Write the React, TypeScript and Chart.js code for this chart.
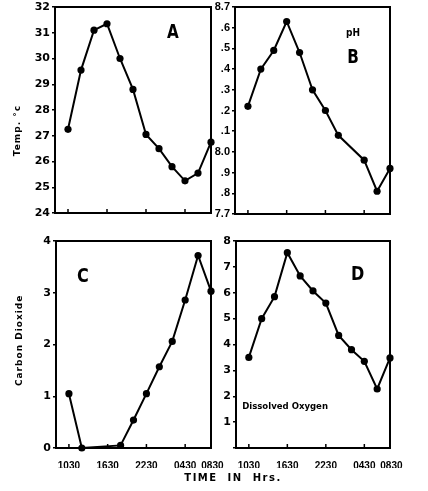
import React, { useEffect, useRef } from "react";
import { Chart, registerables } from "chart.js";

Chart.register(...registerables);

// ---- data ----
// sampling times as hours from midnight of day 1 (32.5 = 08:30 next day)
const sampleHours = [10.5, 12.5, 14.5, 16.5, 18.5, 20.5, 22.5, 24.5, 26.5, 28.5, 30.5, 32.5];
const xTickValues = [10.5, 16.5, 22.5, 28.5, 32.5];
const xTickLabels = ["1030", "1630", "2230", "0430", " 0830"];

const temperature = [27.25, 29.55, 31.1, 31.35, 30.0, 28.8, 27.05, 26.5, 25.8, 25.25, 25.55, 26.75];
const pH = [8.22, 8.4, 8.49, 8.63, 8.48, 8.3, 8.2, 8.08, null, 7.96, 7.81, 7.92];
const carbonDioxide = [1.05, 0.0, null, null, 0.05, 0.54, 1.05, 1.57, 2.06, 2.86, 3.72, 3.03];
const dissolvedOxygen = [3.5, 5.0, 5.85, 7.55, 6.65, 6.07, 5.6, 4.35, 3.8, 3.35, 2.28, 3.48];

const tempTicks = [24, 25, 26, 27, 28, 29, 30, 31, 32];
const tempTickLabels = ["24", "25", "26", "27", "28", "29", "30", "31", "32"];
const pHTicks = [7.7, 7.8, 7.9, 8.0, 8.1, 8.2, 8.3, 8.4, 8.5, 8.6, 8.7];
const pHTickLabels = ["7.7", ".8", ".9", "8.0", ".1", ".2", ".3", ".4", ".5", ".6", "8.7"];
const co2Ticks = [0, 1, 2, 3, 4];
const co2TickLabels = ["0", "1", "2", "3", "4"];
const doTicks = [0, 1, 2, 3, 4, 5, 6, 7, 8];
const doTickLabels = ["", "1", "2", "3", "4", "5", "6", "7", "8"];

const W = 428;
const H = 491;
const X_AXIS_H = 20;
const FONT = '"DejaVu Sans", "Liberation Sans", sans-serif';
const NARROW = '"Liberation Sans", Arial, sans-serif';

type TextItem = {
  text: string;
  fx?: number;
  dx?: number;
  fy: number;
  size: number;
  align?: CanvasTextAlign;
  rotate?: boolean;
  sx?: number;
  spacing?: number;
};

const panelPlugin = {
  id: "panel",
  afterDatasetsDraw(chart: any, _args: any, opts: any) {
    const { ctx, chartArea: a } = chart;
    const w = a.right - a.left;
    const h = a.bottom - a.top;
    ctx.save();
    ctx.strokeStyle = "#000";
    ctx.lineWidth = 2;
    ctx.strokeRect(a.left, a.top, w, h);
    const xs = chart.scales.x;
    ctx.lineWidth = 1.5;
    xs.ticks.forEach((t: any) => {
      if (t.value >= xs.max) return;
      const px = xs.getPixelForValue(t.value);
      ctx.beginPath();
      ctx.moveTo(px, a.bottom);
      ctx.lineTo(px, a.bottom - 4);
      ctx.stroke();
    });
    ctx.fillStyle = "#000";
    (opts.texts || []).forEach((t: TextItem) => {
      const x = t.dx !== undefined ? a.left + t.dx : a.left + (t.fx || 0) * w;
      const y = a.top + t.fy * h;
      ctx.save();
      ctx.translate(x, y);
      if (t.rotate) ctx.rotate(-Math.PI / 2);
      ctx.scale(t.sx || 1, 1);
      ctx.font = `bold ${t.size}px ${FONT}`;
      (ctx as any).letterSpacing = `${t.spacing || 0}px`;
      ctx.textAlign = t.align || "center";
      ctx.textBaseline = "middle";
      ctx.fillText(t.text, 0, 0);
      ctx.restore();
    });
    ctx.restore();
  },
};

type PanelSpec = {
  values: (number | null)[];
  yTicks: number[];
  yLabels: string[];
  yFont: string;
  yFontSize: number;
  showX: boolean;
  left: number;
  top: number;
  right: number;
  bottom: number;
  yAxisW: number;
  texts: TextItem[];
};

function makeConfig(p: PanelSpec): any {
  const fixPad = (s: any) => {
    s.paddingLeft = 0;
    s.paddingRight = 0;
    s.paddingTop = 0;
    s.paddingBottom = 0;
  };
  return {
    type: "line",
    data: {
      datasets: [
        {
          data: sampleHours.map((h, i) => ({ x: h, y: p.values[i] })),
          borderColor: "#000",
          borderWidth: 2,
          pointRadius: 3.6,
          pointBackgroundColor: "#000",
          pointBorderWidth: 0,
          tension: 0,
          spanGaps: true,
          clip: false,
        },
      ],
    },
    options: {
      responsive: false,
      animation: false,
      layout: {
        padding: {
          left: p.left - p.yAxisW,
          right: W - p.right,
          top: p.top,
          bottom: H - p.bottom - X_AXIS_H,
        },
      },
      plugins: {
        legend: { display: false },
        tooltip: { enabled: false },
        panel: { texts: p.texts },
      },
      scales: {
        x: {
          type: "linear",
          min: 8.5,
          max: 32.5,
          afterBuildTicks: (s: any) => {
            s.ticks = xTickValues.map((v) => ({ value: v }));
          },
          afterFit: (s: any) => {
            fixPad(s);
            s.height = X_AXIS_H;
          },
          grid: { display: false },
          border: { display: false },
          ticks: {
            display: p.showX,
            autoSkip: false,
            maxRotation: 0,
            padding: 4,
            color: "#000",
            font: { family: NARROW, size: 10, weight: "bold" },
            callback: (v: number) => {
              const i = xTickValues.indexOf(v);
              return i >= 0 ? xTickLabels[i] : "";
            },
          },
        },
        y: {
          type: "linear",
          min: p.yTicks[0],
          max: p.yTicks[p.yTicks.length - 1],
          afterBuildTicks: (s: any) => {
            s.ticks = p.yTicks.map((v) => ({ value: v }));
          },
          afterFit: (s: any) => {
            fixPad(s);
            s.width = p.yAxisW;
          },
          grid: {
            display: true,
            drawOnChartArea: false,
            drawTicks: true,
            tickLength: 3,
            color: "#000",
            lineWidth: 1.5,
          },
          border: { display: false },
          ticks: {
            autoSkip: false,
            padding: 2,
            color: "#000",
            font: { family: p.yFont, size: p.yFontSize, weight: "bold" },
            callback: (v: number) => {
              const i = p.yTicks.findIndex((t) => Math.abs(t - v) < 1e-6);
              return i >= 0 ? p.yLabels[i] : "";
            },
          },
        },
      },
    },
    plugins: [panelPlugin],
  };
}

const panels: PanelSpec[] = [
  {
    values: temperature,
    yTicks: tempTicks,
    yLabels: tempTickLabels,
    yFont: FONT,
    yFontSize: 11,
    showX: false,
    left: 55,
    top: 7,
    right: 211,
    bottom: 213,
    yAxisW: 55,
    texts: [
      { text: "A", fx: 0.756, fy: 0.126, size: 19, sx: 0.8 },
      { text: "Temp. °c", dx: -37, fy: 0.6, size: 9, rotate: true, spacing: 1 },
    ],
  },
  {
    values: pH,
    yTicks: pHTicks,
    yLabels: pHTickLabels,
    yFont: NARROW,
    yFontSize: 11,
    showX: false,
    left: 235,
    top: 7,
    right: 390,
    bottom: 214,
    yAxisW: 35,
    texts: [
      { text: "pH", fx: 0.761, fy: 0.126, size: 10, sx: 0.9 },
      { text: "B", fx: 0.761, fy: 0.248, size: 19, sx: 0.8 },
    ],
  },
  {
    values: carbonDioxide,
    yTicks: co2Ticks,
    yLabels: co2TickLabels,
    yFont: FONT,
    yFontSize: 11,
    showX: true,
    left: 56,
    top: 241,
    right: 211,
    bottom: 448,
    yAxisW: 56,
    texts: [
      { text: "C", fx: 0.174, fy: 0.174, size: 20, sx: 0.8 },
      { text: "Carbon Dioxide", dx: -36, fy: 0.48, size: 9, rotate: true, spacing: 1 },
    ],
  },
  {
    values: dissolvedOxygen,
    yTicks: doTicks,
    yLabels: doTickLabels,
    yFont: FONT,
    yFontSize: 11,
    showX: true,
    left: 236,
    top: 241,
    right: 390,
    bottom: 448,
    yAxisW: 36,
    texts: [
      { text: "D", fx: 0.79, fy: 0.164, size: 20, sx: 0.8 },
      { text: "Dissolved Oxygen", fx: 0.04, fy: 0.8, size: 9, align: "left", sx: 0.95 },
      { text: "TIME  IN  Hrs.", dx: -3, fy: 1.145, size: 10, spacing: 1.5 },
    ],
  },
];

function Panel({ spec }: { spec: PanelSpec }) {
  const ref = useRef<HTMLCanvasElement | null>(null);
  useEffect(() => {
    if (!ref.current) return;
    const chart = new Chart(ref.current, makeConfig(spec));
    return () => chart.destroy();
  }, [spec]);
  return (
    <canvas
      ref={ref}
      width={W}
      height={H}
      style={{ position: "absolute", left: 0, top: 0, width: W, height: H }}
    />
  );
}

export default function App() {
  return (
    <div
      style={{
        position: "absolute",
        left: 0,
        top: 0,
        width: W,
        height: H,
        background: "#fff",
        overflow: "hidden",
      }}
    >
      {panels.map((p, i) => (
        <Panel key={i} spec={p} />
      ))}
    </div>
  );
}
